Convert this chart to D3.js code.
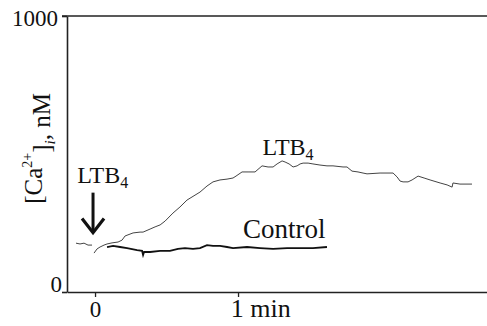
<!DOCTYPE html>
<html>
<head>
<meta charset="utf-8">
<script src="https://cdn.jsdelivr.net/npm/d3@7"></script>
<style>
  body { margin: 0; background: #fff; }
</style>
</head>
<body>
<div id="grafico"></div>
<script>
// trazos: tiempo en minutos, [Ca2+] en nM
const ltbBasal = [
  [-0.133, 177], [-0.105, 174], [-0.077, 177], [-0.049, 170], [-0.021, 170]
];
const ltbRespuesta = [
  [-0.007, 141], [0.014, 156], [0.035, 163], [0.063, 170], [0.084, 174], [0.119, 178],
  [0.161, 181], [0.189, 188], [0.210, 203], [0.266, 214], [0.315, 217], [0.336, 217],
  [0.385, 228], [0.420, 236], [0.455, 243], [0.490, 257], [0.545, 286], [0.594, 308],
  [0.643, 333], [0.734, 362], [0.783, 384], [0.825, 399], [0.874, 406], [0.923, 409],
  [0.965, 413], [0.986, 420], [1.028, 435], [1.070, 435], [1.119, 435], [1.168, 457],
  [1.210, 453], [1.245, 453], [1.273, 464], [1.308, 475], [1.329, 471], [1.357, 464],
  [1.385, 453], [1.413, 457], [1.434, 464], [1.455, 467], [1.490, 467], [1.524, 464],
  [1.573, 460], [1.622, 457], [1.664, 457], [1.734, 453], [1.762, 453], [1.797, 438],
  [1.839, 435], [1.874, 431], [1.902, 428], [1.993, 431], [2.084, 431], [2.112, 417],
  [2.133, 402], [2.154, 399], [2.189, 399], [2.217, 406], [2.259, 420], [2.301, 413],
  [2.343, 406], [2.413, 395], [2.462, 388], [2.497, 380], [2.503, 395], [2.552, 391],
  [2.636, 391]
];
const control = [
  [0.084, 163], [0.126, 167], [0.175, 163], [0.224, 159], [0.294, 152], [0.329, 149],
  [0.336, 134], [0.343, 145], [0.385, 145], [0.455, 149], [0.524, 149], [0.580, 156],
  [0.629, 159], [0.685, 156], [0.734, 159], [0.783, 170], [0.825, 167], [0.874, 167],
  [0.923, 163], [0.965, 159], [1.063, 163], [1.154, 159], [1.245, 156], [1.343, 159],
  [1.434, 159], [1.524, 159], [1.622, 163]
];
const ticksX = [0, 1];
const etiquetasX = ["0", "1 min"];
const ticksY = [0, 1000];
const dominioX = [-0.196, 2.741];
const dominioY = [0, 1000];
const tiempoEstimulo = -0.014;

const fuente = "'Liberation Serif', 'Times New Roman', serif";

const margin = { top: 16, right: 0, bottom: 34, left: 67 };
const width = 487 - margin.left - margin.right;
const height = 326 - margin.top - margin.bottom;

const svg = d3.select("#grafico")
  .append("svg")
  .attr("width", width + margin.left + margin.right)
  .attr("height", height + margin.top + margin.bottom)
  .style("font-family", fuente)
  .append("g")
  .attr("transform", `translate(${margin.left}, ${margin.top})`);

const x = d3.scaleLinear().domain(dominioX).range([0, width]);
const y = d3.scaleLinear().domain(dominioY).range([height, 0]);

// ejes
const ejeX = svg.append("g")
  .attr("transform", `translate(0, ${height})`)
  .call(d3.axisBottom(x).tickValues(ticksX).tickSize(5).tickSizeOuter(0)
    .tickFormat((d, i) => etiquetasX[i]));
ejeX.attr("font-family", null).attr("font-size", null);
ejeX.select(".domain").attr("stroke", "#222").attr("stroke-width", 1.6);
ejeX.selectAll(".tick line").attr("stroke", "#222").attr("stroke-width", 1.3);
ejeX.selectAll("text")
  .style("font-family", fuente)
  .style("font-size", (d, i) => i === 0 ? "23px" : "26px")
  .attr("fill", "#111")
  .attr("y", 9)
  .attr("dy", (d, i) => i === 0 ? "0.71em" : "0.62em")
  .attr("text-anchor", (d, i) => i === 0 ? "middle" : "start")
  .attr("dx", (d, i) => i === 0 ? 0 : "-0.3em");

const ejeY = svg.append("g")
  .call(d3.axisLeft(y).tickValues(ticksY).tickSize(5).tickSizeOuter(0)
    .tickFormat(d => String(d)));
ejeY.attr("font-family", null).attr("font-size", null);
ejeY.select(".domain").attr("stroke", "#222").attr("stroke-width", 1.6);
ejeY.selectAll(".tick line").attr("stroke", "#222").attr("stroke-width", 1.6);
ejeY.selectAll("text")
  .style("font-family", fuente)
  .style("font-size", "23px")
  .attr("fill", "#111")
  .attr("x", d => d === 0 ? -5 : -9)
  .attr("dy", d => d === 0 ? "-0.02em" : "0.4em");

// linea superior
svg.append("line")
  .attr("x1", -5).attr("x2", width)
  .attr("y1", y(dominioY[1])).attr("y2", y(dominioY[1]))
  .attr("stroke", "#222").attr("stroke-width", 1.6);

// etiqueta eje y
const etiquetaY = svg.append("text")
  .attr("transform", `translate(-25, ${y(520)}) rotate(-90)`)
  .attr("text-anchor", "middle")
  .attr("fill", "#111")
  .style("font-size", "25px");
etiquetaY.append("tspan").text("[Ca");
etiquetaY.append("tspan").style("font-size", "14px").attr("dy", "-0.75em").text("2+");
etiquetaY.append("tspan").attr("dy", "0.75em").text("]");
etiquetaY.append("tspan").style("font-size", "15px").attr("font-style", "italic").attr("dy", "0.3em").text("i");
etiquetaY.append("tspan").attr("dy", "-0.2em").text(", nM");

// trazos
const linea = d3.line().x(d => x(d[0])).y(d => y(d[1]));

svg.append("path")
  .datum(ltbBasal)
  .attr("d", linea)
  .attr("fill", "none")
  .attr("stroke", "#444")
  .attr("stroke-width", 1);

svg.append("path")
  .datum(ltbRespuesta)
  .attr("d", linea)
  .attr("fill", "none")
  .attr("stroke", "#444")
  .attr("stroke-width", 1);

svg.append("path")
  .datum(control)
  .attr("d", linea)
  .attr("fill", "none")
  .attr("stroke", "#111")
  .attr("stroke-width", 1.8);

// flecha del estimulo
const xa = x(tiempoEstimulo);
svg.append("line")
  .attr("x1", xa).attr("x2", xa)
  .attr("y1", y(360)).attr("y2", y(218))
  .attr("stroke", "#111").attr("stroke-width", 3);
svg.append("path")
  .attr("d", `M${xa - 11},${y(266)} L${xa},${y(215)} L${xa + 11},${y(266)}`)
  .attr("fill", "none")
  .attr("stroke", "#111")
  .attr("stroke-width", 3.2);

// rotulos
function rotuloLTB(t, c) {
  const txt = svg.append("text")
    .attr("x", x(t)).attr("y", y(c))
    .attr("fill", "#111")
    .style("font-size", "24px");
  txt.append("tspan").text("LTB");
  txt.append("tspan").style("font-size", "16px").attr("dy", "0.3em").text("4");
}
rotuloLTB(-0.125, 395);
rotuloLTB(1.171, 497);

svg.append("text")
  .attr("x", x(1.035)).attr("y", y(197))
  .attr("fill", "#111")
  .style("font-size", "27px")
  .text("Control");
</script>
</body>
</html>
